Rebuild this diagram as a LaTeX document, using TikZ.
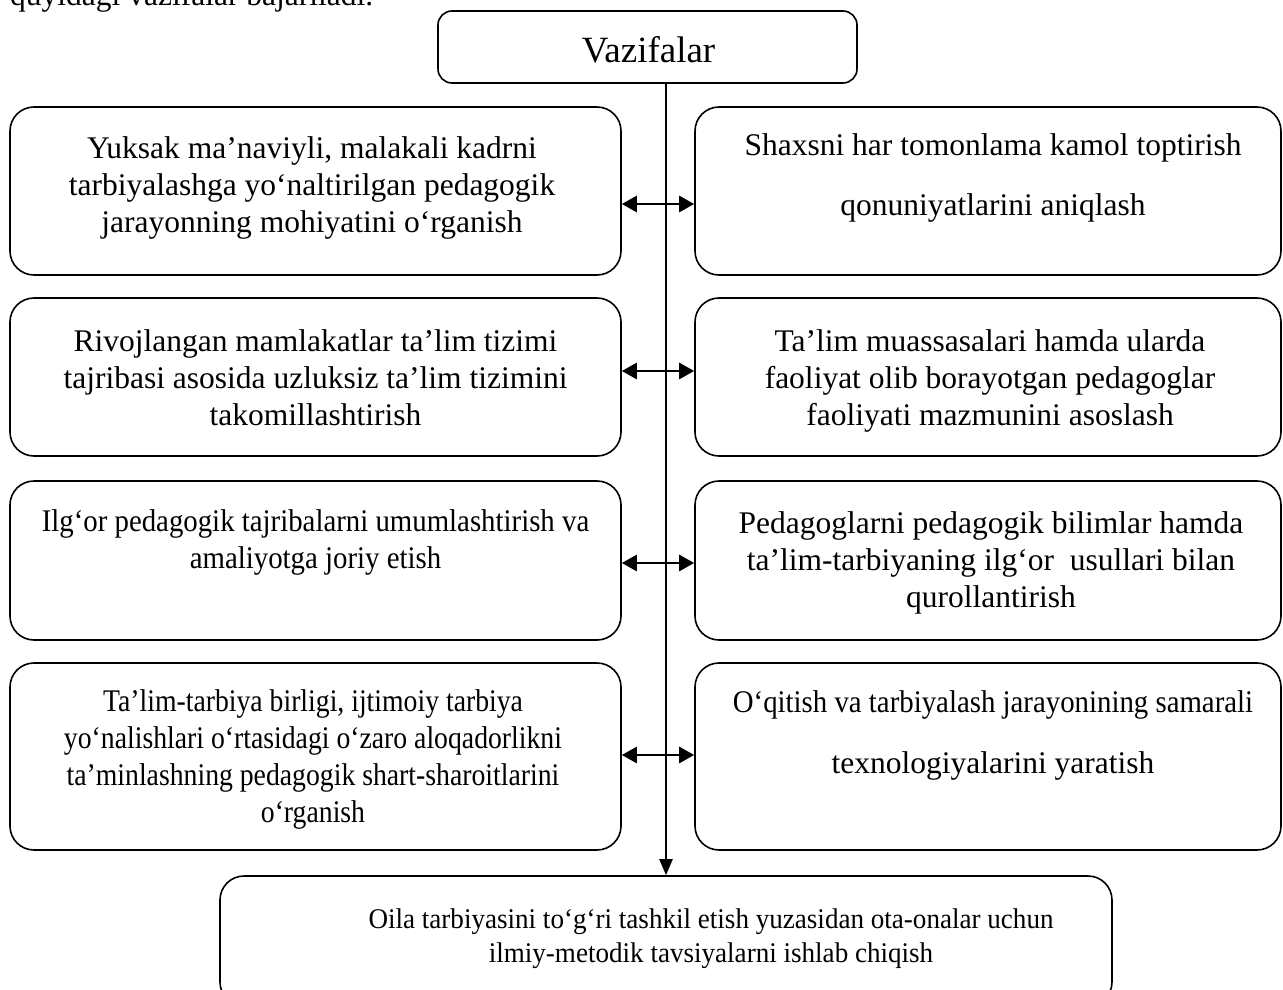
\documentclass[tikz,border=0pt]{standalone}
\usepackage{fontspec}
\setmainfont{Liberation Serif}
\newfontfamily\condfont[FakeStretch=0.915]{Liberation Serif}
\newfontfamily\condfontb[FakeStretch=0.88]{Liberation Serif}
\newfontfamily\condfontc[FakeStretch=0.95]{Liberation Serif}
\usetikzlibrary{arrows.meta}
\begin{document}
\begin{tikzpicture}[x=1pt,y=-1pt,
  box/.style={draw, line width=1.6pt, rounded corners=24pt, inner sep=0pt},
  txt/.style={align=center, inner sep=0pt, font=\fontsize{31.5}{37}\selectfont},
  wide/.style={align=center, inner sep=0pt, font=\fontsize{31.5}{60}\selectfont},
  cond/.style={align=center, inner sep=0pt, font=\condfont\fontsize{31.5}{37}\selectfont},
  condb/.style={align=center, inner sep=0pt, font=\condfontb\fontsize{31.5}{37}\selectfont},
  conn/.style={line width=2.6pt, {Triangle[length=15pt,width=16pt]}-{Triangle[length=15pt,width=16pt]}},
  vline/.style={line width=2.2pt, -{Triangle[length=16pt,width=13pt]}}
]
\useasboundingbox (0,0) rectangle (1283,990);
% intro text (cut by the top edge)
\node[anchor=base west, inner sep=0pt, font=\fontsize{31.5}{37}\selectfont] (intro) at (10,6) {quyidagi vazifalar bajariladi.};
% title
\node[box, minimum width=419pt, minimum height=72pt, rounded corners=14pt] (V) at (647.5,47) {};
\node[inner sep=0pt, font=\fontsize{37}{44}\selectfont] (Vt) at (648.5,50) {Vazifalar};
% boxes
\node[box, minimum width=611pt, minimum height=168pt] (L1) at (315.5,191) {};
\node[box, minimum width=586pt, minimum height=168pt] (R1) at (988,191) {};
\node[box, minimum width=611pt, minimum height=158pt] (L2) at (315.5,377) {};
\node[box, minimum width=586pt, minimum height=158pt] (R2) at (988,377) {};
\node[box, minimum width=611pt, minimum height=159pt] (L3) at (315.5,560.5) {};
\node[box, minimum width=586pt, minimum height=159pt] (R3) at (988,560.5) {};
\node[box, minimum width=611pt, minimum height=187pt] (L4) at (315.5,756.5) {};
\node[box, minimum width=586pt, minimum height=187pt] (R4) at (988,756.5) {};
\node[box, minimum width=892pt, minimum height=130pt] (B) at (666,941) {};
% texts
\node[txt] (L1t) at (312,188) {Yuksak ma’naviyli, malakali kadrni\\tarbiyalashga yo‘naltirilgan pedagogik\\jarayonning mohiyatini o‘rganish};
\node[wide] (R1t) at (993,178) {Shaxsni har tomonlama kamol toptirish\\qonuniyatlarini aniqlash};
\node[txt] (L2t) at (315.5,378) {Rivojlangan mamlakatlar ta’lim tizimi\\tajribasi asosida uzluksiz ta’lim tizimini\\takomillashtirish};
\node[txt] (R2t) at (990,381) {Ta’lim muassasalari hamda ularda\\faoliyat olib borayotgan pedagoglar\\faoliyati mazmunini asoslash};
\node[cond] (L3t) at (315.5,542) {Ilg‘or pedagogik tajribalarni umumlashtirish va\\amaliyotga joriy etish};
\node[txt] (R3t) at (991,563) {Pedagoglarni pedagogik bilimlar hamda\\ta’lim-tarbiyaning ilg‘or\ \ usullari bilan\\qurollantirish};
\node[condb] (L4t) at (313,759) {Ta’lim-tarbiya birligi, ijtimoiy tarbiya\\yo‘nalishlari o‘rtasidagi o‘zaro aloqadorlikni\\ta’minlashning pedagogik shart-sharoitlarini\\o‘rganish};
\node[align=center, inner sep=0pt, font=\fontsize{31.5}{61}\selectfont] (R4t) at (993,735) {{\condfont O‘qitish va tarbiyalash jarayonining samarali}\\texnologiyalarini yaratish};
\node[align=center, inner sep=0pt, font=\condfontc\fontsize{28.5}{34}\selectfont] (Bt) at (711,939) {Oila tarbiyasini to‘g‘ri tashkil etish yuzasidan ota-onalar uchun\\ilmiy-metodik tavsiyalarni ishlab chiqish};
% connectors
\draw[vline] (V.south -| B.north) -- (B.north);
\draw[conn] ([yshift=-13pt]L1.east) -- ([yshift=-13pt]R1.west);
\draw[conn] ([yshift=6pt]L2.east) -- ([yshift=6pt]R2.west);
\draw[conn] ([yshift=-2.5pt]L3.east) -- ([yshift=-2.5pt]R3.west);
\draw[conn] ([yshift=1.5pt]L4.east) -- ([yshift=1.5pt]R4.west);
\end{tikzpicture}
\end{document}
